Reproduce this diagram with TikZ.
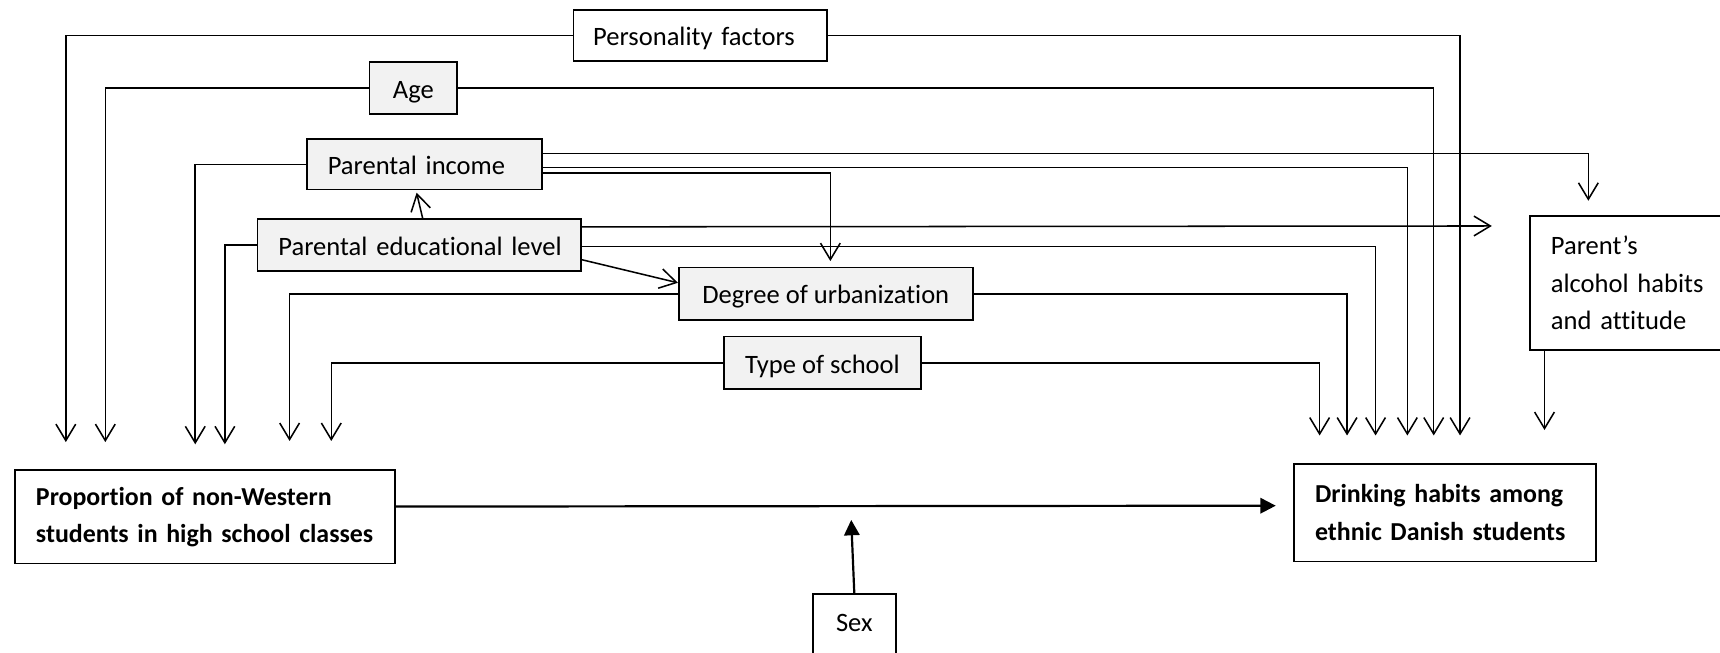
\documentclass[tikz,border=0pt]{standalone}
\usepackage{fontspec}
\setmainfont{Carlito}[Ligatures={NoCommon}]
\usetikzlibrary{arrows.meta}
\definecolor{boxgray}{HTML}{F2F2F2}
\begin{document}
\begin{tikzpicture}[x=0.5pt,y=-0.5pt,
  every node/.style={font=\fontsize{12.1pt}{17pt}\selectfont},
  box/.style={draw,line width=0.8pt,rectangle,inner ysep=0pt,anchor=north west,fill=white},
  gbox/.style={box,fill=boxgray},
  oneline/.style={text height=10pt,text depth=0.7pt},
  boldtext/.style={font=\fontsize{11.8pt}{17pt}\selectfont\bfseries},
  conn/.style={line width=0.7pt,-{Straight Barb[length=7.5pt,width=9pt]}},
  mainarrow/.style={line width=1pt,-{Triangle[length=7pt,width=7pt]}}]
\useasboundingbox (0,0) rectangle (1568,595);

% boxes
\node[box,oneline,text width=97.5pt,inner xsep=9pt,align=left,minimum height=23.5pt] (pers) at (522,8) {\mbox{Personality factors}};
\node[gbox,oneline,minimum width=40pt,minimum height=23.5pt,inner xsep=0pt] (age) at (336,56) {Age};
\node[gbox,oneline,text width=88pt,inner xsep=9.5pt,align=left,minimum height=23pt] (inc) at (279,126) {\mbox{Parental income}};
\node[gbox,oneline,text width=128.5pt,inner xsep=9.5pt,align=left,minimum height=23.5pt] (edu) at (234,199) {\mbox{Parental educational level}};
\node[gbox,oneline,minimum width=134pt,minimum height=24pt] (urb) at (618,243) {Degree of urbanization};
\node[gbox,oneline,minimum width=90pt,minimum height=24pt] (sch) at (659,306) {Type of school};
\node[box,text width=96pt,inner xsep=9.5pt,align=left,minimum height=61pt] (par) at (1394,196) {\mbox{Parent’s}\\\mbox{alcohol habits}\\\mbox{and attitude}};
\node[box,boldtext,text width=154pt,inner xsep=9.5pt,align=left,minimum height=42.5pt] (prop) at (13,428) {\mbox{Proportion of non-Western}\\\mbox{students in high school classes}};
\node[box,boldtext,text width=118.5pt,inner xsep=9.5pt,align=left,minimum height=44.5pt] (drink) at (1179,422) {\mbox{Drinking habits among}\\\mbox{ethnic Danish students}};
\node[box,minimum width=38pt,inner xsep=0pt,text height=17pt,text depth=25pt] (sex) at (740,541) {Sex};

% arrow tips
\coordinate (tPersA) at (60,403);
\coordinate (tPersB) at (1331,397);
\coordinate (tAgeA) at (96,403);
\coordinate (tAgeB) at (1307,397);
\coordinate (tIncA) at (178,405);
\coordinate (tIncB) at (1448,183);
\coordinate (tIncC) at (1283,397);
\coordinate (tIncD) at (757,238);
\coordinate (tEduA) at (205,405);
\coordinate (tEduB) at (1360,206);
\coordinate (tEduC) at (1254,397);
\coordinate (tUrbA) at (264,402);
\coordinate (tUrbB) at (1228,397);
\coordinate (tSchA) at (302,402);
\coordinate (tSchB) at (1203,397);
\coordinate (tPar) at (1408,392);
\coordinate (tMain) at (1163,461);
\coordinate (tSex) at (776,474);

% connectors
\draw[conn] (pers.west) -| (tPersA);
\draw[conn] (pers.east) -| (tPersB);
\draw[conn] (age.west) -| (tAgeA);
\draw[conn] (age.east) -| (tAgeB);
\draw[conn] (inc.west) -| (tIncA);
\draw[conn] ([yshift=5pt]inc.east) -| (tIncB);
\draw[conn] ([yshift=-1.5pt]inc.east) -| (tIncC);
\draw[conn] ([yshift=-4pt]inc.east) -| (tIncD);
\draw[conn] ([xshift=1.5pt]edu.north) -- ([xshift=-3.5pt,yshift=-1pt]inc.south);
\draw[conn] (edu.west) -| (tEduA);
\draw[conn] ([yshift=8.25pt]edu.east) -- (tEduB);
\draw[conn] ([yshift=-0.75pt]edu.east) -| (tEduC);
\draw[conn] ([yshift=-6.75pt]edu.east) -- ([yshift=5pt]urb.west);
\draw[conn] (urb.west) -| (tUrbA);
\draw[conn] (urb.east) -| (tUrbB);
\draw[conn] (sch.west) -| (tSchA);
\draw[conn] (sch.east) -| (tSchB);
\draw[conn] ([xshift=7pt]par.south west) -- (tPar);
\draw[mainarrow] ([yshift=4.75pt]prop.east) -- (tMain);
\draw[mainarrow] (sex.north) -- (tSex);
\end{tikzpicture}
\end{document}
